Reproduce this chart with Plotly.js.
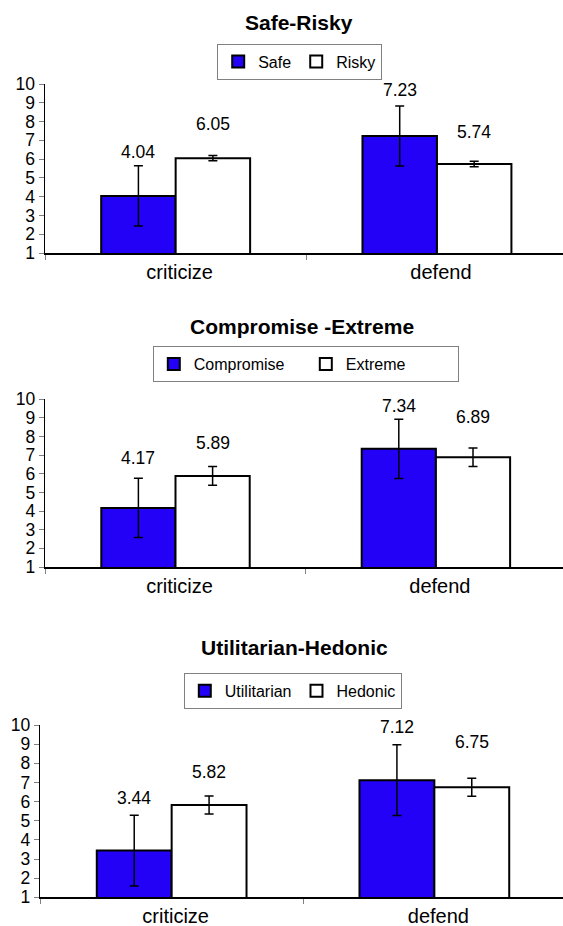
<!DOCTYPE html>
<html>
<head>
<meta charset="utf-8">
<script src="https://cdn.plot.ly/plotly-3.0.1.min.js"></script>
<style>
html,body{margin:0;padding:0;background:#ffffff;}
#chart{width:563px;height:926px;}
</style>
</head>
<body>
<div id="chart"></div>
<script>
// ---------------- data ----------------
const categories = ['criticize', 'defend'];
const panelTitles = ['Safe-Risky', 'Compromise -Extreme', 'Utilitarian-Hedonic'];

const safeValues = [4.04, 7.23];
const riskyValues = [6.05, 5.74];
const safeErrors = [1.60, 1.60];
const riskyErrors = [0.14, 0.15];

const compromiseValues = [4.17, 7.34];
const extremeValues = [5.89, 6.89];
const compromiseErrors = [1.59, 1.59];
const extremeErrors = [0.50, 0.50];

const utilitarianValues = [3.44, 7.12];
const hedonicValues = [5.82, 6.75];
const utilitarianErrors = [1.85, 1.85];
const hedonicErrors = [0.47, 0.47];

const yTickValues = [1, 2, 3, 4, 5, 6, 7, 8, 9, 10];

// ---------------- styling / geometry ----------------
const W = 563, H = 926;
const FONT = 'Liberation Sans, Arial, Helvetica, sans-serif';
const BLUE = '#2300F6';
const BARGAP = 0.43;

const panels = [
  {title: panelTitles[0], names: ['Safe', 'Risky'],
   vals: [safeValues, riskyValues], errs: [safeErrors, riskyErrors],
   axisX: 45, catW: 261.3, yTop: 84, yBot: 253,
   titleX: 299, titleY: 22, legX: 299.7, legY: 61.7, legEntry: null,
   lift: [[44, 46], [34, 32]]},
  {title: panelTitles[1], names: ['Compromise', 'Extreme'],
   vals: [compromiseValues, extremeValues], errs: [compromiseErrors, extremeErrors],
   axisX: 45.3, catW: 260.4, yTop: 399.3, yBot: 567,
   titleX: 302, titleY: 326.7, legX: 305.8, legY: 364, legEntry: 107,
   lift: [[49.6, 42.9], [33.2, 40.6]]},
  {title: panelTitles[2], names: ['Utilitarian', 'Hedonic'],
   vals: [utilitarianValues, hedonicValues], errs: [utilitarianErrors, hedonicErrors],
   axisX: 40.3, catW: 262.7, yTop: 725, yBot: 897.3,
   titleX: 294.7, titleY: 647.3, legX: 292.8, legY: 690.8, legEntry: null,
   lift: [[52.3, 52.8], [33.3, 45.2]]}
];

const data = [];
const layout = {
  width: W, height: H,
  margin: {l: 0, r: 0, t: 0, b: 0},
  paper_bgcolor: '#ffffff', plot_bgcolor: '#ffffff',
  barmode: 'group', bargap: BARGAP, bargroupgap: 0,
  font: {family: FONT, color: '#000000', size: 16},
  annotations: [],
  showlegend: true
};

const barW = (1 - BARGAP) / 2;

panels.forEach((p, i) => {
  const sfx = i === 0 ? '' : String(i + 1);
  const legName = 'legend' + sfx;
  for (let s = 0; s < 2; s++) {
    data.push({
      type: 'bar',
      name: p.names[s],
      x: categories,
      y: p.vals[s],
      xaxis: 'x' + sfx,
      yaxis: 'y' + sfx,
      legend: legName,
      marker: {color: s === 0 ? BLUE : '#ffffff', line: {color: '#000000', width: 2}},
      error_y: {type: 'data', array: p.errs[s], visible: true, color: '#000000', thickness: 1.5, width: 4.5},
      hoverinfo: 'skip'
    });
    // value labels
    categories.forEach((c, ci) => {
      layout.annotations.push({
        xref: 'x' + sfx, yref: 'y' + sfx,
        x: ci + (s - 0.5) * barW, y: p.vals[s][ci],
        yshift: p.lift[s][ci], yanchor: 'middle', xanchor: 'center',
        text: p.vals[s][ci].toFixed(2), showarrow: false,
        font: {family: FONT, size: 17.5, color: '#000000'}
      });
    });
  }
  // title
  layout.annotations.push({
    xref: 'paper', yref: 'paper', x: p.titleX / W, y: 1 - p.titleY / H,
    xanchor: 'center', yanchor: 'middle', showarrow: false,
    text: '<b>' + p.title + '</b>',
    font: {family: FONT, size: 21, color: '#000000'}
  });
  layout['xaxis' + sfx] = {
    type: 'category', anchor: 'y' + sfx,
    domain: [p.axisX / W, 1],
    range: [-0.5, -0.5 + (W - p.axisX) / p.catW],
    tickson: 'boundaries', ticks: 'outside', ticklen: 5, tickcolor: '#808080', tickwidth: 1,
    showline: true, linecolor: '#000000', linewidth: 1.5,
    showgrid: false, zeroline: false, fixedrange: true,
    ticklabelshift: 4,
    tickfont: {family: FONT, size: 20, color: '#000000'}
  };
  layout['yaxis' + sfx] = {
    anchor: 'x' + sfx,
    domain: [1 - p.yBot / H, 1 - p.yTop / H],
    range: [1, 10], tickvals: yTickValues, ticktext: yTickValues.map(String),
    ticks: 'outside', ticklen: 5, tickcolor: '#808080', tickwidth: 1,
    showline: true, linecolor: '#000000', linewidth: 1.5,
    showgrid: false, zeroline: false, fixedrange: true,
    tickfont: {family: FONT, size: 17.5, color: '#000000'}
  };
  const leg = {
    orientation: 'h', x: p.legX / W, y: 1 - p.legY / H,
    xanchor: 'center', yanchor: 'middle',
    bgcolor: '#ffffff', bordercolor: '#808080', borderwidth: 1,
    font: {family: FONT, size: 16, color: '#000000'},
    traceorder: 'normal'
  };
  if (p.legEntry) { leg.entrywidth = p.legEntry; leg.entrywidthmode = 'pixels'; }
  layout[legName] = leg;
});

Plotly.newPlot('chart', data, layout, {staticPlot: true, displayModeBar: false});
</script>
</body>
</html>
